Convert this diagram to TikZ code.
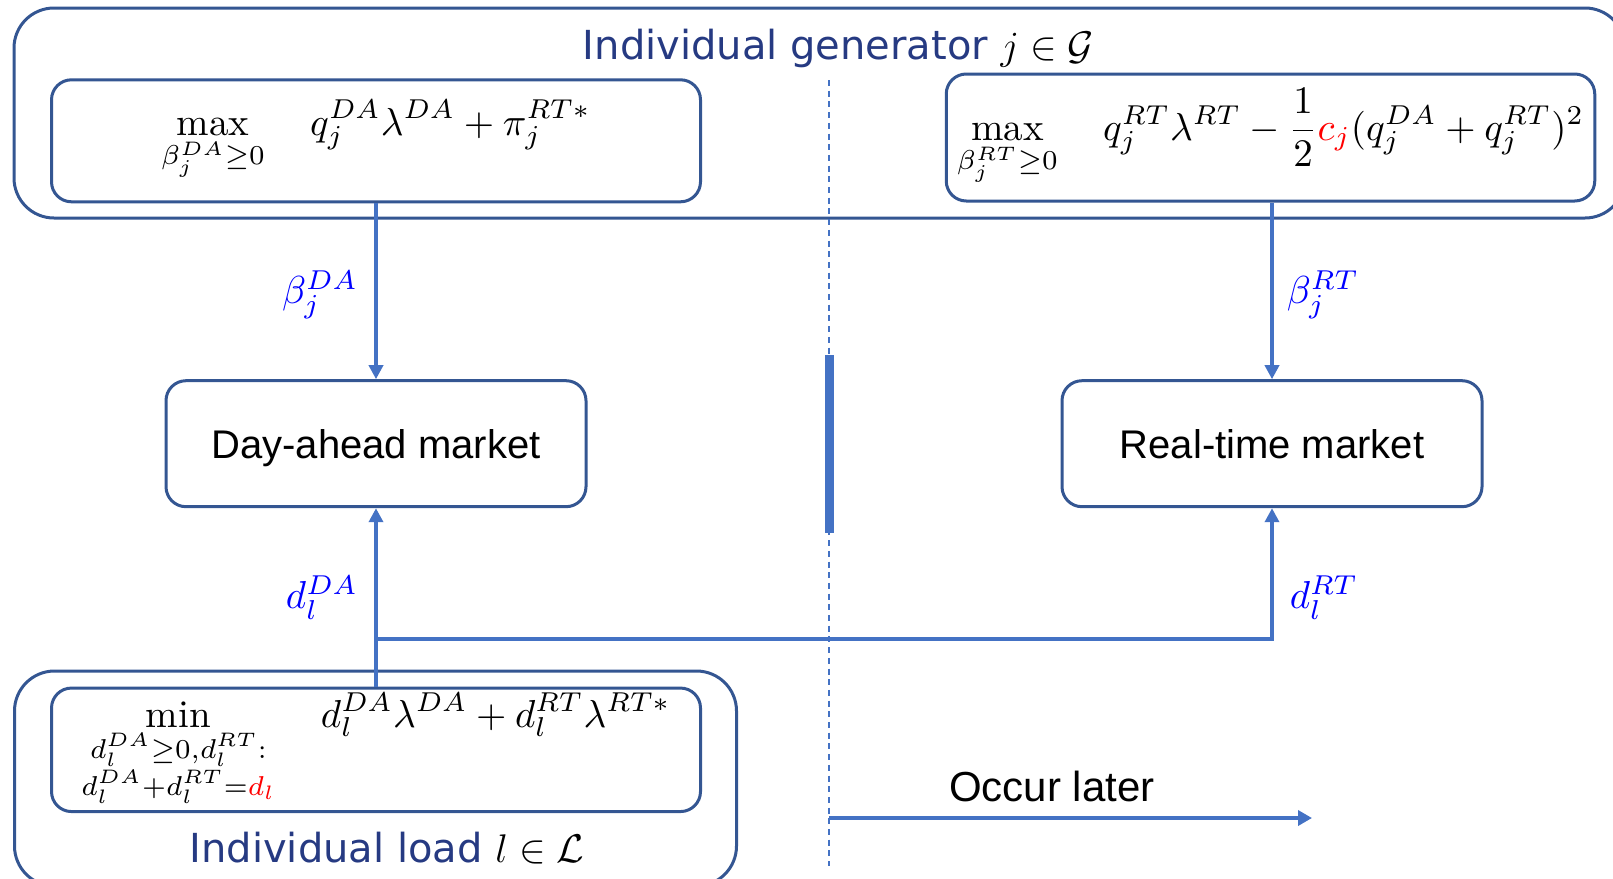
\RequirePackage{fix-cm}
\documentclass[tikz,border=0pt]{standalone}
\usepackage{amsmath, amssymb}
\usepackage{fontspec}
\newfontfamily\titlefont{DejaVu Sans}
\newfontfamily\marketfont{Liberation Sans}
\usetikzlibrary{arrows.meta, positioning}
\definecolor{framenavy}{RGB}{52,86,146}
\definecolor{titlenavy}{RGB}{38,58,130}
\definecolor{flowblue}{RGB}{68,114,196}
\tikzset{
  groupbox/.style={draw=framenavy, line width=3pt, rounded corners=40pt},
  objbox/.style={draw=framenavy, line width=3pt, rounded corners=20pt, fill=white},
  objtext/.style={inner sep=0pt, scale=3.9, transform shape},
  marketbox/.style={draw=framenavy, line width=3pt, rounded corners=20pt,
    minimum width=420pt, minimum height=126pt, text height=29pt, text depth=0pt,
    font=\marketfont\fontsize{40}{48}\selectfont},
  grouptitle/.style={anchor=base, text=titlenavy, font=\titlefont\fontsize{40}{48}\selectfont},
  flow/.style={draw=flowblue, line width=3.5pt, -{Triangle[length=14pt, width=14pt]}},
  varlabel/.style={text=blue, inner sep=0pt, scale=3.9, transform shape},
  timeline/.style={draw=flowblue, line width=2pt, dash pattern=on 6pt off 4.7pt}
}

\begin{document}
\begin{tikzpicture}[x=1pt, y=-1pt]
  \useasboundingbox (0,0) rectangle (1613,878);

  % generator side
  \node[groupbox, minimum width=1611pt, minimum height=210pt] (gen) at (819.5,113) {};
  \node[grouptitle] (gentitle) at (838.5,59) {Individual generator {\color{black}$j\in\mathcal{G}$}};
  \node[objbox, minimum width=649pt, minimum height=122pt] (genda) at (376,140.8) {};
  \node[objtext] (gendatext) at (genda.center)
    {$\displaystyle\max_{\beta_j^{DA}\geq 0}\quad q_j^{DA}\lambda^{DA}+\pi_j^{RT*}$};
  \node[objbox, minimum width=648.5pt, minimum height=127pt] (genrt) at (1270.5,137.5) {};
  \node[objtext] (genrttext) at (genrt.center)
    {$\displaystyle\max_{\beta_j^{RT}\geq 0}\quad q_j^{RT}\lambda^{RT}-\frac{1}{2}\textcolor{red}{c_j}(q_j^{DA}+q_j^{RT})^2$};

  % load side
  \node[groupbox, minimum width=722pt, minimum height=215pt] (load) at (375.5,778.5) {};
  \node[objbox, minimum width=649pt, minimum height=123.5pt] (loadin) at (376,749.8) {};
  \node[objtext] (loadintext) at (loadin.center)
    {$\displaystyle\min_{\substack{d_l^{DA}\geq 0,d_l^{RT}:\\ d_l^{DA}+d_l^{RT}=\textcolor{red}{d_l}}}\quad d_l^{DA}\lambda^{DA}+d_l^{RT}\lambda^{RT*}$};
  \node[grouptitle] (loadtitle) at (387,862.7) {Individual load {\color{black}$l\in\mathcal{L}$}};

  % markets
  \node[marketbox] (dam) at (376,443.7) {Day-ahead market};
  \node[marketbox] (rtm) at (1272,443.7) {Real-time market};

  % time divider
  \coordinate (divtop) at (829,80);
  \coordinate (divbot) at (829,866);
  \draw[timeline] (divtop) -- (divbot);
  \draw[flowblue, line width=9pt] (829,355) -- (829,533);
  \coordinate (later) at (829,818);
  \coordinate (laterend) at (1312,818);
  \draw[flow, line width=4.5pt, -{Triangle[length=14pt, width=15pt]}] (later) -- (laterend);
  \node[anchor=base, font=\marketfont\fontsize{42}{50}\selectfont] (latertext) at (1052,801) {Occur later};

  % flows
  \draw[flow] (genda.south) -- (dam.north);
  \draw[flow] (genrt.south -| rtm.north) -- (rtm.north);
  \coordinate (split) at (376,639);
  \draw[flow] (loadin.north) -- (dam.south);
  \draw[flow] (split) -| (rtm.south);

  \node[varlabel] (bda) at (320,295) {$\beta_j^{DA}$};
  \node[varlabel] (brt) at (1323,295) {$\beta_j^{RT}$};
  \node[varlabel] (dda) at (322,598) {$d_l^{DA}$};
  \node[varlabel] (drt) at (1324,598) {$d_l^{RT}$};
\end{tikzpicture}
\end{document}
